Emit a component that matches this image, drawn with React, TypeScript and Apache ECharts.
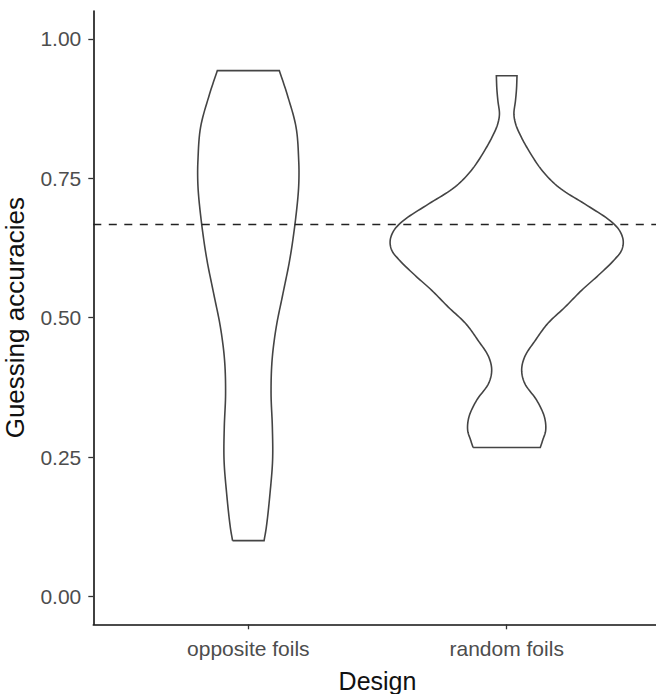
import React, { useEffect, useRef } from "react";
import * as echarts from "echarts";

// ---- data ----
const categories = ["opposite foils", "random foils"];
const categoryPositions = [1, 2];
const yTickValues = [0, 0.25, 0.5, 0.75, 1.0];
const chanceLevel = 0.667;

// Violin outlines: accuracy values (bottom → top) and half-widths (in category units)
const oppositeY = [0.100, 0.125, 0.185, 0.245, 0.304, 0.364, 0.424, 0.483, 0.543, 0.603, 0.662, 0.722, 0.752, 0.782, 0.841, 0.901, 0.943];
const oppositeHalfWidth = [0.061, 0.070, 0.084, 0.094, 0.093, 0.088, 0.092, 0.108, 0.134, 0.160, 0.179, 0.193, 0.196, 0.195, 0.185, 0.150, 0.120];

const randomY = [0.267, 0.281, 0.298, 0.322, 0.352, 0.382, 0.406, 0.430, 0.460, 0.489, 0.519, 0.549, 0.576, 0.603, 0.621, 0.638, 0.656, 0.674, 0.704, 0.734, 0.764, 0.800, 0.829, 0.847, 0.865, 0.889, 0.910, 0.934];
const randomHalfWidth = [0.130, 0.140, 0.151, 0.146, 0.116, 0.070, 0.058, 0.070, 0.112, 0.158, 0.226, 0.290, 0.355, 0.415, 0.445, 0.451, 0.437, 0.400, 0.302, 0.201, 0.137, 0.085, 0.051, 0.035, 0.028, 0.034, 0.038, 0.040];

const violinY = [oppositeY, randomY];
const violinHalfWidth = [oppositeHalfWidth, randomHalfWidth];

const FONT = "'Liberation Sans', Arial, Helvetica, sans-serif";
const OUTLINE = "#444444";

// centripetal Catmull-Rom through screen points (rendering only)
function spline(pts: number[][], steps = 10): number[][] {
  if (pts.length < 3) return pts;
  const out: number[][] = [];
  const P = [
    [2 * pts[0][0] - pts[1][0], 2 * pts[0][1] - pts[1][1]],
    ...pts,
    [2 * pts[pts.length - 1][0] - pts[pts.length - 2][0], 2 * pts[pts.length - 1][1] - pts[pts.length - 2][1]],
  ];
  const td = (a: number[], b: number[]) => Math.pow(Math.hypot(b[0] - a[0], b[1] - a[1]), 0.5) || 1e-4;
  for (let i = 1; i < P.length - 2; i++) {
    const p0 = P[i - 1], p1 = P[i], p2 = P[i + 1], p3 = P[i + 2];
    const t0 = 0, t1 = t0 + td(p0, p1), t2 = t1 + td(p1, p2), t3 = t2 + td(p2, p3);
    for (let s = 0; s < steps; s++) {
      const t = t1 + ((t2 - t1) * s) / steps;
      const pt = [0, 1].map((d) => {
        const a1 = ((t1 - t) / (t1 - t0)) * p0[d] + ((t - t0) / (t1 - t0)) * p1[d];
        const a2 = ((t2 - t) / (t2 - t1)) * p1[d] + ((t - t1) / (t2 - t1)) * p2[d];
        const a3 = ((t3 - t) / (t3 - t2)) * p2[d] + ((t - t2) / (t3 - t2)) * p3[d];
        const b1 = ((t2 - t) / (t2 - t0)) * a1 + ((t - t0) / (t2 - t0)) * a2;
        const b2 = ((t3 - t) / (t3 - t1)) * a2 + ((t - t1) / (t3 - t1)) * a3;
        return ((t2 - t) / (t2 - t1)) * b1 + ((t - t1) / (t2 - t1)) * b2;
      });
      out.push(pt);
    }
  }
  out.push(pts[pts.length - 1]);
  return out;
}

export default function App() {
  const ref = useRef<HTMLDivElement>(null);

  useEffect(() => {
    if (!ref.current) return;
    const chart = echarts.init(ref.current, undefined, { renderer: "svg" });

    const renderViolin = (params: any, api: any) => {
      const idx = params.dataIndex;
      const center = api.value(0);
      const ys = violinY[idx];
      const hws = violinHalfWidth[idx];
      const left = ys.map((y, k) => api.coord([center - hws[k], y]));
      const right = ys.map((y, k) => api.coord([center + hws[k], y]));
      const n = ys.length - 1;
      const outline = [...spline(left), ...spline(right).reverse()];
      outline.push(outline[0]);
      return {
        type: "polyline",
        shape: { points: outline },
        style: { stroke: OUTLINE, lineWidth: 1.6, fill: null, lineJoin: "miter" },
      };
    };

    chart.setOption({
      animation: false,
      backgroundColor: "#ffffff",
      textStyle: { fontFamily: FONT },
      grid: { left: 93.3, top: 11, width: 568.4, height: 613.3, containLabel: false, outerBoundsMode: "none" },
      xAxis: {
        type: "value",
        min: 0.4,
        max: 2.6,
        splitLine: { show: false },
        axisLine: { show: true, onZero: false, lineStyle: { color: "#111", width: 1.6 } },
        axisTick: { show: true, customValues: categoryPositions, length: 5, lineStyle: { color: "#333", width: 1.3 } },
        axisLabel: {
          customValues: categoryPositions,
          formatter: (v: number) => categories[Math.round(v) - 1] ?? "",
          color: "#4d4d4d",
          fontSize: 21,
          margin: 14,
          fontFamily: FONT,
        },
        name: "Design",
        nameLocation: "middle",
        nameGap: 44,
        nameTextStyle: { fontSize: 25, color: "#111", fontFamily: FONT },
      },
      yAxis: {
        type: "value",
        min: -0.05,
        max: 1.05,
        splitLine: { show: false },
        axisLine: { show: true, onZero: false, lineStyle: { color: "#111", width: 1.6 } },
        axisTick: { show: true, customValues: yTickValues, length: 5, lineStyle: { color: "#333", width: 1.3 } },
        axisLabel: {
          customValues: yTickValues,
          formatter: (v: number) => v.toFixed(2),
          color: "#4d4d4d",
          fontSize: 21,
          margin: 12,
          fontFamily: FONT,
        },
        name: "Guessing accuracies",
        nameLocation: "middle",
        nameGap: 65,
        nameTextStyle: { fontSize: 26, color: "#111", fontFamily: FONT },
      },
      series: [
        {
          type: "custom",
          data: categoryPositions.map((c) => [c, 0.5]),
          renderItem: renderViolin,
          clip: false,
          silent: true,
        },
        {
          type: "line",
          data: [[0.4, chanceLevel], [2.6, chanceLevel]],
          symbol: "none",
          silent: true,
          lineStyle: { color: "#222", width: 1.6, type: [8, 7.5] },
        },
      ],
    });

    return () => chart.dispose();
  }, []);

  return (
    <div
      ref={ref}
      style={{ position: "fixed", left: 0, top: 0, width: 656, height: 694, background: "#fff" }}
    />
  );
}
